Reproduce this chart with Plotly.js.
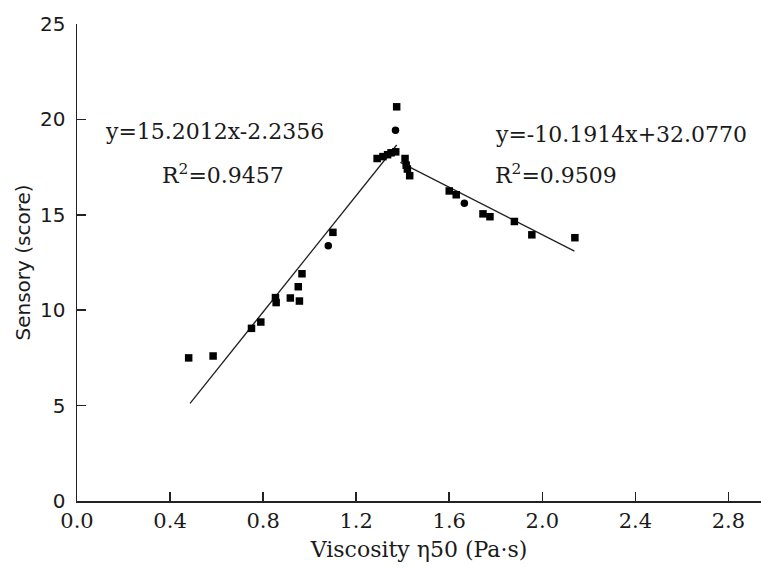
<!DOCTYPE html>
<html>
<head>
<meta charset="utf-8">
<script src="https://cdn.plot.ly/plotly-3.0.1.min.js"></script>
<style>html,body{margin:0;padding:0;background:#fff;}#chart{width:761px;height:568px;}</style>
</head>
<body>
<div id="chart"></div>
<script>
// Measured points: viscosity (Pa·s) vs sensory score
const viscosity = [0.48, 0.585, 0.75, 0.79, 0.853, 0.856, 0.917, 0.951, 0.956, 0.967, 1.08, 1.10,
                   1.29, 1.315, 1.335, 1.35, 1.37, 1.369, 1.374,
                   1.41, 1.415, 1.42, 1.43, 1.60, 1.63, 1.665, 1.745, 1.775, 1.88, 1.955, 2.14];
const sensory   = [7.5, 7.6, 9.05, 9.38, 10.66, 10.4, 10.64, 11.23, 10.48, 11.91, 13.38, 14.08,
                   17.95, 18.05, 18.15, 18.25, 18.3, 19.43, 20.66,
                   17.95, 17.6, 17.4, 17.05, 16.25, 16.05, 15.6, 15.05, 14.9, 14.65, 13.95, 13.8];
const symbols   = ['square','square','square','square','square','square','square','square','square','square','circle','square',
                   'square','square','square','square','square','circle','square',
                   'square','square','square','square','square','square','circle','square','square','square','square','square'];

// Fitted lines (end points)
const fitLeftX  = [0.486, 1.374];
const fitLeftY  = [5.12, 18.66];
const fitRightX = [1.39, 2.138];
const fitRightY = [17.75, 13.1];

// Labels
const eqLeft  = ['y=15.2012x-2.2356', 'R<sup>2</sup>=0.9457'];
const eqRight = ['y=-10.1914x+32.0770', 'R<sup>2</sup>=0.9509'];
const xTicks = [0, 0.4, 0.8, 1.2, 1.6, 2.0, 2.4, 2.8];
const xTickText = ['0.0','0.4','0.8','1.2','1.6','2.0','2.4','2.8'];
const yTicks = [0, 5, 10, 15, 20, 25];

const serif = 'DejaVu Serif, serif';
const sans = 'DejaVu Sans, sans-serif';

const traces = [
  {x: fitLeftX, y: fitLeftY, mode: 'lines', line: {color: '#222', width: 1.3}, hoverinfo: 'skip'},
  {x: fitRightX, y: fitRightY, mode: 'lines', line: {color: '#222', width: 1.3}, hoverinfo: 'skip'},
  {x: viscosity, y: sensory, mode: 'markers', marker: {symbol: symbols, size: 7.5, color: '#000'}}
];

const layout = {
  width: 761, height: 568,
  margin: {l: 77, r: 0, t: 24, b: 67},
  showlegend: false,
  paper_bgcolor: '#fff', plot_bgcolor: '#fff',
  xaxis: {
    range: [0, 2.94], showgrid: false, zeroline: false,
    showline: true, linecolor: '#222', linewidth: 1.5,
    ticks: 'inside', ticklen: 9, tickwidth: 1.5, tickcolor: '#222',
    tickvals: xTicks, ticktext: xTickText,
    tickfont: {family: serif, size: 21, color: '#1a1a1a'},
    title: {text: 'Viscosity η50 (Pa·s)', font: {family: serif, size: 22, color: '#1a1a1a'}, standoff: 10}
  },
  yaxis: {
    range: [0, 25], showgrid: false, zeroline: false,
    showline: true, linecolor: '#222', linewidth: 1.5,
    ticks: 'inside', ticklen: 9, tickwidth: 1.5, tickcolor: '#222',
    tickvals: yTicks, ticklabelstandoff: 6,
    tickfont: {family: sans, size: 20, color: '#1a1a1a'},
    title: {text: 'Sensory (score)', font: {family: sans, size: 20, color: '#1a1a1a'}, standoff: 4}
  },
  annotations: [
    {x: 0.112, y: 19.39, xref: 'x', yref: 'y', text: eqLeft[0], showarrow: false, xanchor: 'left', yanchor: 'middle', font: {family: serif, size: 22, color: '#1a1a1a'}},
    {x: 0.357, y: 17.14, xref: 'x', yref: 'y', text: eqLeft[1], showarrow: false, xanchor: 'left', yanchor: 'middle', font: {family: serif, size: 22, color: '#1a1a1a'}},
    {x: 1.788, y: 19.23, xref: 'x', yref: 'y', text: eqRight[0], showarrow: false, xanchor: 'left', yanchor: 'middle', font: {family: serif, size: 22, color: '#1a1a1a'}},
    {x: 1.788, y: 17.14, xref: 'x', yref: 'y', text: eqRight[1], showarrow: false, xanchor: 'left', yanchor: 'middle', font: {family: serif, size: 22, color: '#1a1a1a'}}
  ]
};

Plotly.newPlot('chart', traces, layout, {displayModeBar: false, staticPlot: true});
</script>
</body>
</html>
